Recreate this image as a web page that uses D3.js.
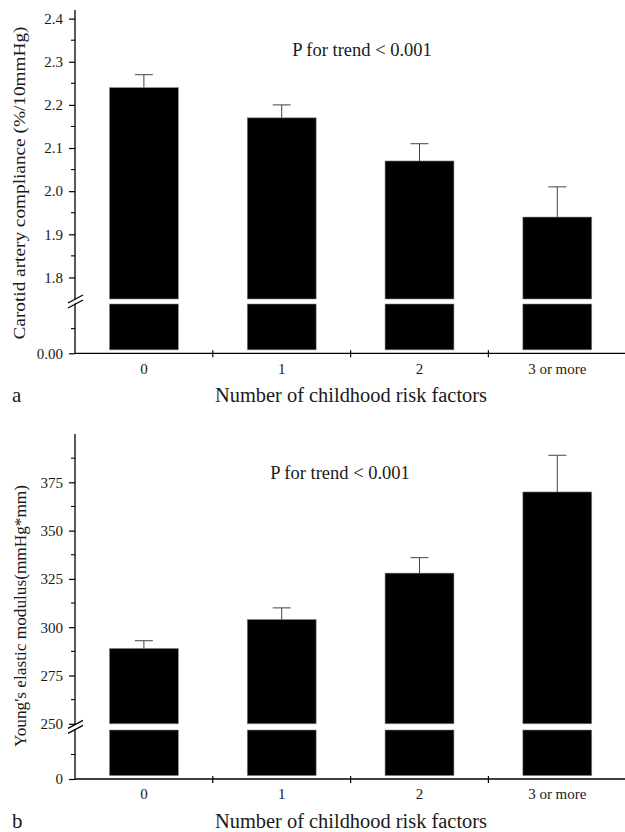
<!DOCTYPE html>
<html>
<head>
<meta charset="utf-8">
<script src="https://cdn.jsdelivr.net/npm/d3@7"></script>
<style>
  html, body { margin: 0; padding: 0; background: #fff; }
  svg { display: block; }
  text { font-family: "Liberation Serif", "Times New Roman", serif; fill: #1a1a1a; }
</style>
</head>
<body>
<svg id="chart" width="625" height="832"></svg>
<script>
// ---------- data ----------
const categories = ["0", "1", "2", "3 or more"];

const complianceMean  = [2.24, 2.17, 2.07, 1.94];
const complianceUpper = [2.27, 2.20, 2.11, 2.01];
const complianceTicks = [1.8, 1.9, 2.0, 2.1, 2.2, 2.3, 2.4];
const complianceMinor = [1.85, 1.95, 2.05, 2.15, 2.25, 2.35];
const complianceZeroLabel = "0.00";

const modulusMean  = [289, 304, 328, 370];
const modulusUpper = [293, 310, 336, 389];
const modulusTicks = [250, 275, 300, 325, 350, 375];
const modulusMinor = [262.5, 287.5, 312.5, 337.5, 362.5, 387.5];
const modulusZeroLabel = "0";

const trendText = "P for trend < 0.001";
const xTitle = "Number of childhood risk factors";
const yTitleA = "Carotid artery compliance (%/10mmHg)";
const yTitleB = "Young's elastic modulus(mmHg*mm)";

// ---------- drawing ----------
const svg = d3.select("#chart");
const axisX = 75;
const x = d3.scaleBand().domain(categories).range([75, 626.2]).paddingInner(0.5).paddingOuter(0.25);

function panel(cfg) {
  const g = svg.append("g");
  const yU = d3.scaleLinear().domain(cfg.upDomain).range(cfg.upRange);
  const yL = d3.scaleLinear().domain([0, 1]).range(cfg.lowRange);
  const axisY = cfg.lowRange[0];
  const breakC = (cfg.upRange[0] + cfg.lowRange[1]) / 2;

  const data = categories.map((c, i) => ({ c, m: cfg.mean[i], u: cfg.upper[i] }));

  // bars upper segment
  g.selectAll("rect.up").data(data).join("rect")
    .attr("x", d => x(d.c)).attr("width", x.bandwidth())
    .attr("y", d => yU(d.m)).attr("height", d => yU(cfg.upDomain[0]) - yU(d.m))
    .attr("fill", "#000").attr("stroke", "#8a8a8a").attr("stroke-width", 0.6);
  // bars lower segment
  g.selectAll("rect.low").data(data).join("rect")
    .attr("x", d => x(d.c)).attr("width", x.bandwidth())
    .attr("y", yL(1)).attr("height", yL(0.07) - yL(1))
    .attr("fill", "#000").attr("stroke", "#8a8a8a").attr("stroke-width", 0.6);

  // error bars
  const eb = g.selectAll("g.eb").data(data).join("g")
    .attr("transform", d => `translate(${x(d.c) + x.bandwidth() / 2},0)`);
  eb.append("line").attr("x1", 0).attr("x2", 0)
    .attr("y1", d => yU(d.m)).attr("y2", d => yU(d.u))
    .attr("stroke", "#444").attr("stroke-width", 1);
  eb.append("line").attr("x1", -9).attr("x2", 9)
    .attr("y1", d => yU(d.u)).attr("y2", d => yU(d.u))
    .attr("stroke", "#444").attr("stroke-width", 1);

  // y axis upper
  const axU = d3.axisLeft(yU).tickValues(cfg.ticks).tickSize(6).tickPadding(6)
    .tickFormat(cfg.fmt);
  const gU = g.append("g").attr("transform", `translate(${axisX},0)`).call(axU);
  gU.select(".domain").remove();
  gU.append("line").attr("x1", 0).attr("x2", 0)
    .attr("y1", cfg.upRange[1]).attr("y2", breakC - 2)
    .attr("stroke", "#000").attr("stroke-width", 1.3);
  gU.selectAll(".tick line").attr("stroke", "#000").attr("stroke-width", 1.2);
  gU.selectAll(".tick text").style("font-size", "15px")
    .style("font-family", "Liberation Serif").attr("fill", "#1a1a1a");
  gU.selectAll("line.minor").data(cfg.minor).join("line").attr("class", "minor")
    .attr("x1", -4).attr("x2", 0).attr("y1", d => yU(d)).attr("y2", d => yU(d))
    .attr("stroke", "#000").attr("stroke-width", 1.1);

  // y axis lower
  const axL = d3.axisLeft(yL).tickValues([0]).tickSize(6).tickPadding(6)
    .tickFormat(() => cfg.zeroLabel);
  const gL = g.append("g").attr("transform", `translate(${axisX},0)`).call(axL);
  gL.select(".domain").remove();
  gL.append("line").attr("x1", 0).attr("x2", 0)
    .attr("y1", breakC + 2).attr("y2", axisY)
    .attr("stroke", "#000").attr("stroke-width", 1.3);
  gL.selectAll(".tick line").attr("stroke", "#000").attr("stroke-width", 1.2);
  gL.selectAll(".tick text").style("font-size", "15px")
    .style("font-family", "Liberation Serif").attr("fill", "#1a1a1a");
  gL.append("line").attr("x1", -4).attr("x2", 0)
    .attr("y1", yL(0.5)).attr("y2", yL(0.5))
    .attr("stroke", "#000").attr("stroke-width", 1.1);

  // break marks
  [-2.5, 2.5].forEach(d => {
    g.append("line")
      .attr("x1", axisX - 7).attr("y1", breakC + d + 4)
      .attr("x2", axisX + 8).attr("y2", breakC + d - 4)
      .attr("stroke", "#000").attr("stroke-width", 1.2);
  });

  // x axis
  const gx = g.append("g").attr("transform", `translate(0,${axisY})`);
  gx.append("line").attr("x1", axisX).attr("x2", 625)
    .attr("stroke", "#000").attr("stroke-width", 1.3);
  const bounds = [1, 2, 3, 4].map(k => axisX + k * x.step());
  gx.selectAll("line.bt").data(bounds).join("line").attr("class", "bt")
    .attr("x1", d => d).attr("x2", d => d).attr("y1", -3).attr("y2", 4)
    .attr("stroke", "#000").attr("stroke-width", 1.2);
  gx.selectAll("text.cat").data(categories).join("text").attr("class", "cat")
    .attr("x", d => x(d) + x.bandwidth() / 2).attr("y", cfg.catBase - axisY)
    .attr("text-anchor", "middle").style("font-size", "15px").text(d => d);

  // titles
  g.append("text").attr("x", 215).attr("y", cfg.titleBase)
    .attr("textLength", 272).attr("lengthAdjust", "spacingAndGlyphs")
    .style("font-size", "20px").text(xTitle);
  g.append("text").attr("x", 12).attr("y", cfg.titleBase)
    .style("font-size", "21px").text(cfg.panelLabel);
  g.append("text")
    .attr("transform", `translate(${cfg.yTitleX},${cfg.yTitleC}) rotate(-90)`)
    .attr("text-anchor", "middle")
    .attr("textLength", cfg.yTitleLen).attr("lengthAdjust", "spacingAndGlyphs")
    .style("font-size", "17px").text(cfg.yTitle);
  g.append("text").attr("x", cfg.pX).attr("y", cfg.pY)
    .attr("text-anchor", "middle").style("font-size", "18.5px").text(trendText);
}

panel({
  mean: complianceMean, upper: complianceUpper,
  ticks: complianceTicks, minor: complianceMinor, zeroLabel: complianceZeroLabel,
  fmt: d3.format(".1f"),
  upDomain: [1.75, 2.42], upRange: [299, 10],
  lowRange: [353.3, 304],
  catBase: 374, titleBase: 402, panelLabel: "a",
  yTitle: yTitleA, yTitleX: 25, yTitleC: 183, yTitleLen: 313,
  pX: 362, pY: 56
});

panel({
  mean: modulusMean, upper: modulusUpper,
  ticks: modulusTicks, minor: modulusMinor, zeroLabel: modulusZeroLabel,
  fmt: d3.format("d"),
  upDomain: [250, 400], upRange: [723.8, 434],
  lowRange: [779, 730],
  catBase: 799, titleBase: 828, panelLabel: "b",
  yTitle: yTitleB, yTitleX: 26, yTitleC: 616, yTitleLen: 262,
  pX: 340, pY: 479
});
</script>
</body>
</html>
